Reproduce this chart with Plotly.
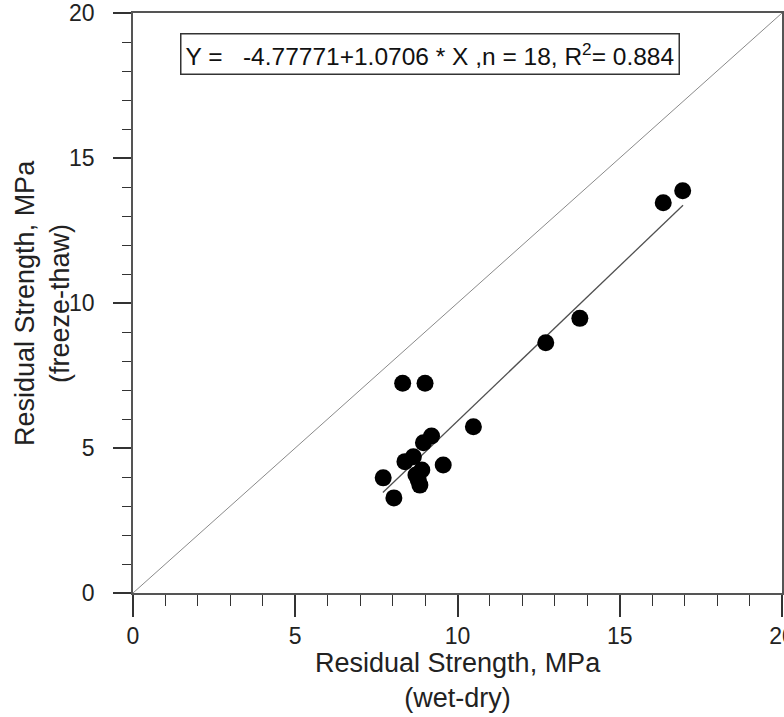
import plotly.graph_objects as go

wet_dry = [7.71, 8.04, 8.31, 9.00, 8.38, 8.64, 8.95, 9.20, 9.56, 8.90, 8.79, 8.84, 8.72, 10.49, 12.72, 13.77, 16.34, 16.94]
freeze_thaw = [3.97, 3.28, 7.23, 7.23, 4.53, 4.70, 5.18, 5.41, 4.41, 4.24, 3.90, 3.72, 4.07, 5.73, 8.63, 9.47, 13.46, 13.87]

intercept = -4.77771
slope = 1.0706
fit_x = [7.7, 16.95]
fit_y = [intercept + slope * v for v in fit_x]
diag = [0, 20]

font = "Liberation Sans, Arial, sans-serif"

fig = go.Figure()
fig.add_trace(go.Scatter(x=diag, y=diag, mode="lines",
                         line=dict(color="#8a8a8a", width=1), showlegend=False))
fig.add_trace(go.Scatter(x=fit_x, y=fit_y, mode="lines",
                         line=dict(color="#505050", width=1.3), showlegend=False))
fig.add_trace(go.Scatter(x=wet_dry, y=freeze_thaw, mode="markers",
                         marker=dict(color="black", size=17), showlegend=False))

def axis(ticklen, standoff):
    return dict(range=[0, 20], dtick=5, tick0=0, showline=True, linecolor="#555",
                linewidth=1.5, mirror=True, ticks="outside", ticklen=ticklen, tickwidth=1.5,
                tickcolor="#333", showgrid=False, zeroline=False, automargin=False,
                ticklabelstandoff=standoff, ticklabeloverflow="allow",
                tickfont=dict(family=font, size=23, color="#222"),
                minor=dict(dtick=1, ticks="outside", ticklen=ticklen // 2, tickwidth=1.3,
                           tickcolor="#333"))

fig.update_layout(
    width=784, height=717,
    margin=dict(l=133, r=2, t=13, b=124),
    paper_bgcolor="white", plot_bgcolor="white",
    xaxis=axis(22, 0),
    yaxis=axis(18, 14),
    font=dict(family=font),
)

fig.add_annotation(xref="paper", yref="paper", x=0.5, y=0, yshift=-87, yanchor="middle",
                   text="Residual Strength, MPa<br>(wet-dry)", showarrow=False,
                   font=dict(family=font, size=27, color="#222"))
fig.add_annotation(xref="paper", yref="paper", x=0, xshift=-91, y=0.5, xanchor="center",
                   yanchor="middle",
                   text="Residual Strength, MPa<br>(freeze-thaw)", showarrow=False, textangle=-90,
                   font=dict(family=font, size=27, color="#222"))
fig.add_annotation(xref="paper", yref="paper", x=0.457, y=0.930, yanchor="middle",
                   text="Y =   -4.77771+1.0706 * X ,n = 18, R<sup>2</sup>= 0.884", showarrow=False,
                   font=dict(family=font, size=24.5, color="#111"),
                   bordercolor="#333", borderwidth=1.5, borderpad=4, bgcolor="white")

fig.write_html("out.html")
